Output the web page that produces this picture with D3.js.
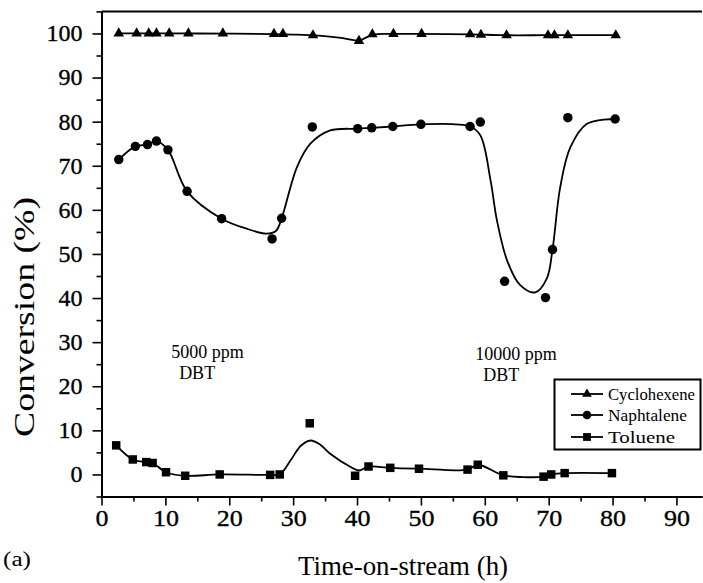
<!DOCTYPE html>
<html>
<head>
<meta charset="utf-8">
<script src="https://cdn.jsdelivr.net/npm/d3@7"></script>
<style>
  html, body { margin: 0; padding: 0; background: #fff; }
  svg { display: block; }
</style>
</head>
<body>
<svg id="chart" width="703" height="583"></svg>
<script>
// Measured conversion values (markers)
const cycloTime = [2.7, 5.5, 7.4, 8.6, 10.6, 13.6, 19.0, 27.0, 28.4, 33.1, 40.3, 42.4, 45.7, 50.1, 57.7, 59.4, 63.4, 69.9, 70.9, 73.0, 80.5];
const cycloConv = [100, 100, 100, 100, 100, 100, 100, 99.9, 99.9, 99.6, 98.3, 99.8, 99.9, 99.9, 99.8, 99.7, 99.6, 99.6, 99.6, 99.6, 99.6];

const naphTime = [2.7, 5.3, 7.2, 8.6, 10.4, 13.4, 18.8, 26.7, 28.2, 33.0, 40.1, 42.3, 45.6, 50.0, 57.7, 59.3, 63.1, 69.5, 70.6, 73.0, 80.4];
const naphConv = [71.4, 74.4, 74.8, 75.6, 73.6, 64.2, 58.0, 53.4, 58.1, 78.8, 78.4, 78.6, 78.9, 79.4, 78.9, 79.9, 43.8, 40.1, 51.0, 80.9, 80.6];

const tolTime = [2.3, 4.9, 7.0, 8.0, 10.1, 13.1, 18.5, 26.4, 27.9, 32.6, 39.7, 41.8, 45.2, 49.7, 57.3, 58.9, 62.9, 69.2, 70.4, 72.5, 79.9];
const tolConv = [6.6, 3.4, 2.8, 2.6, 0.5, -0.3, 0.0, -0.1, 0.0, 11.6, -0.3, 1.8, 1.5, 1.3, 1.1, 2.2, -0.2, -0.5, 0.0, 0.3, 0.3];

// Smoothed trend curves
const cycloFitTime = [2.7, 10, 20, 27, 30, 34, 37.5, 40.3, 42.4, 45.7, 50, 58, 63, 70, 80.5];
const cycloFitConv = [100, 100, 99.95, 99.85, 99.75, 99.5, 99.0, 98.4, 99.7, 99.9, 99.9, 99.8, 99.6, 99.6, 99.6];

const naphFitTime = [2.7, 5.3, 7.2, 8.6, 10.4, 13.4, 18.8, 23.0, 25.8, 27.3, 28.2, 30.6, 32.7, 35.8, 40.1, 42.3, 45.6, 50.0, 57.7, 59.3, 60.9, 61.9, 63.5, 65.5, 67.9, 69.7, 70.6, 71.8, 73.4, 76.0, 80.4];
const naphFitConv = [71.4, 74.4, 74.8, 75.6, 73.6, 64.2, 58.0, 55.6, 54.6, 55.2, 58.1, 69.7, 75.0, 78.0, 78.4, 78.6, 78.9, 79.4, 78.9, 76.9, 66.7, 57.6, 48.5, 43.0, 41.3, 44.4, 51.0, 65.1, 74.2, 79.5, 80.6];

const tolFitTime = [2.3, 4.9, 7.0, 8.0, 10.1, 13.1, 18.5, 26.4, 27.9, 29.6, 31.2, 32.7, 34.2, 35.8, 39.0, 40.3, 41.8, 45.2, 49.7, 57.3, 58.9, 62.9, 66.0, 69.2, 70.4, 72.5, 79.9];
const tolFitConv = [6.6, 3.4, 2.8, 2.6, 0.5, -0.3, 0.0, -0.1, 0.0, 3.2, 6.5, 7.7, 6.8, 4.7, 1.7, 0.9, 1.8, 1.5, 1.3, 1.1, 2.2, -0.2, -0.6, -0.5, 0.0, 0.3, 0.3];

const seriesNames = ["Cyclohexene", "Naphtalene", "Toluene"];
const xTicks = [0, 10, 20, 30, 40, 50, 60, 70, 80, 90];
const yTicks = [0, 10, 20, 30, 40, 50, 60, 70, 80, 90, 100];
const xMinorTicks = [5, 15, 25, 35, 45, 55, 65, 75, 85];
const yMinorTicks = [-5, 5, 15, 25, 35, 45, 55, 65, 75, 85, 95, 105];
const notes = [
  { t: 10.9, v: 26.4, lines: ["5000 ppm", "DBT"] },
  { t: 58.5, v: 26.0, lines: ["10000 ppm", "DBT"] }
];

const FONT = '"Liberation Serif", "Times New Roman", serif';
const svg = d3.select("#chart");
const x = d3.scaleLinear().domain([0, 94]).range([101.5, 702]);
const y = d3.scaleLinear().domain([-5, 105]).range([496.5, 11.4]);

const zip = (a, b) => a.map((d, i) => [d, b[i]]);
const serif = (sel, size) => sel.attr("font-family", FONT).attr("font-size", size)
  .style("font-family", FONT).style("font-size", size + "px").style("fill", "#000");
const stretch = (sel, perChar) =>
  sel.attr("textLength", d => String(d).length * perChar).attr("lengthAdjust", "spacingAndGlyphs");

// Axes
const gx = svg.append("g").attr("transform", `translate(0,${y(-5)})`)
  .call(d3.axisBottom(x).tickValues(xTicks).tickSize(9).tickPadding(3).tickSizeOuter(0).tickFormat(d3.format("d")));
const gxm = svg.append("g").attr("transform", `translate(0,${y(-5)})`)
  .call(d3.axisBottom(x).tickValues(xMinorTicks).tickSize(5).tickSizeOuter(0).tickFormat(""));
const gy = svg.append("g").attr("transform", `translate(${x(0)},0)`)
  .call(d3.axisLeft(y).tickValues(yTicks).tickSize(9).tickPadding(10).tickSizeOuter(0).tickFormat(d3.format("d")));
const gym = svg.append("g").attr("transform", `translate(${x(0)},0)`)
  .call(d3.axisLeft(y).tickValues(yMinorTicks).tickSize(5).tickSizeOuter(0).tickFormat(""));

[gx, gxm, gy, gym].forEach(g => {
  g.attr("font-family", FONT);
  g.selectAll("path.domain").attr("stroke", "#000").attr("stroke-width", 2);
  g.selectAll(".tick line").attr("stroke", "#000").attr("stroke-width", 1.6);
});
gx.selectAll("text").call(serif, 24).call(stretch, 13)
  .style("stroke", "#000").style("stroke-width", 0.35);
gy.selectAll("text").call(serif, 23).call(stretch, 12)
  .style("stroke", "#000").style("stroke-width", 0.35);

// top frame edge
svg.append("line")
  .attr("x1", x(0)).attr("x2", x(94)).attr("y1", y(105)).attr("y2", y(105))
  .attr("stroke", "#000").attr("stroke-width", 2);

// Axis titles
svg.append("text")
  .attr("x", 403).attr("y", 575).attr("text-anchor", "middle")
  .call(serif, 28)
  .attr("textLength", 210).attr("lengthAdjust", "spacingAndGlyphs")
  .text("Time-on-stream (h)");
svg.append("text")
  .attr("transform", `translate(34,317) rotate(-90)`).attr("text-anchor", "middle")
  .call(serif, 30)
  .attr("textLength", 240).attr("lengthAdjust", "spacingAndGlyphs")
  .text("Conversion (%)");
svg.append("text")
  .attr("x", 3).attr("y", 566).call(serif, 20)
  .attr("textLength", 28).attr("lengthAdjust", "spacingAndGlyphs")
  .text("(a)");

// Trend curves
const curve = d3.line().x(d => x(d[0])).y(d => y(d[1])).curve(d3.curveCatmullRom.alpha(0.5));
const fits = [zip(cycloFitTime, cycloFitConv), zip(naphFitTime, naphFitConv), zip(tolFitTime, tolFitConv)];
svg.append("g").selectAll("path").data(fits).join("path")
  .attr("d", curve).attr("fill", "none").attr("stroke", "#000").attr("stroke-width", 1.8);

// Markers
const symTypes = [d3.symbolTriangle, d3.symbolCircle, d3.symbolSquare];
const symSizes = [48, 70, 72];
const pts = [zip(cycloTime, cycloConv), zip(naphTime, naphConv), zip(tolTime, tolConv)];
pts.forEach((arr, k) => {
  svg.append("g").selectAll("path").data(arr).join("path")
    .attr("transform", d => `translate(${x(d[0])},${y(d[1])})`)
    .attr("d", d3.symbol(symTypes[k], symSizes[k]))
    .attr("fill", "#000");
});

// Annotations
notes.forEach(n => {
  const t = svg.append("text").attr("x", x(n.t)).attr("y", y(n.v)).call(serif, 18);
  t.append("tspan").attr("x", x(n.t)).attr("dy", 0).text(n.lines[0]);
  t.append("tspan").attr("x", x(n.t) + 8).attr("dy", 21).text(n.lines[1]);
});

// Legend
const lg = svg.append("g");
lg.append("rect").attr("x", 554.5).attr("y", 379.5).attr("width", 146).attr("height", 70)
  .attr("fill", "#fff").attr("stroke", "#000").attr("stroke-width", 2);
const rowY = [394, 415, 437];
const textLen = [87, 79, 67];
seriesNames.forEach((name, i) => {
  lg.append("line").attr("x1", 571).attr("x2", 603).attr("y1", rowY[i]).attr("y2", rowY[i])
    .attr("stroke", "#000").attr("stroke-width", 1.8);
  lg.append("path").attr("transform", `translate(587,${rowY[i]})`)
    .attr("d", d3.symbol(symTypes[i], symSizes[i] * 0.85)).attr("fill", "#000");
  lg.append("text").attr("x", 608).attr("y", rowY[i] + 6).call(serif, 17)
    .attr("textLength", textLen[i]).attr("lengthAdjust", "spacingAndGlyphs")
    .text(name);
});
</script>
</body>
</html>
